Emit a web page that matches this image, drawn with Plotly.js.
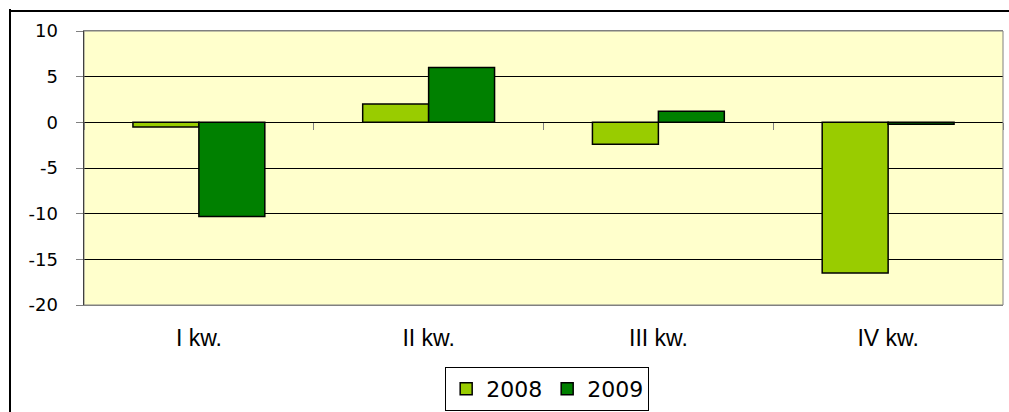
<!DOCTYPE html>
<html>
<head>
<meta charset="utf-8">
<script src="https://cdn.plot.ly/plotly-3.0.1.min.js"></script>
<style>html,body{margin:0;padding:0;background:#fff;}#chart{width:1009px;height:412px;}</style>
</head>
<body>
<div id="chart"></div>
<script>
const categories = ["I kw.", "II kw.", "III kw.", "IV kw."];
const seriesNames = ["2008", "2009"];
const values2008 = [-0.5, 2.0, -2.4, -16.5];
const values2009 = [-10.3, 6.0, 1.2, -0.2];
const yTickVals = [10, 5, 0, -5, -10, -15, -20];

const ARIAL = "Liberation Sans, Arial, sans-serif";
const WIDE = "DejaVu Sans, Verdana, sans-serif";

const traces = [
  {
    type: "bar", name: seriesNames[0], x: categories, y: values2008,
    marker: {color: "#99CC00", line: {color: "#000000", width: 1.5}},
    hoverinfo: "skip"
  },
  {
    type: "bar", name: seriesNames[1], x: categories, y: values2009,
    marker: {color: "#008000", line: {color: "#000000", width: 1.5}},
    hoverinfo: "skip"
  },
  {
    type: "scatter", mode: "markers", x: categories, y: categories.map(() => null),
    xaxis: "x2", yaxis: "y", showlegend: false, hoverinfo: "skip"
  }
];

const layout = {
  width: 1009, height: 412,
  margin: {l: 84, r: 6, t: 31, b: 107, pad: 0, autoexpand: false},
  paper_bgcolor: "#ffffff",
  plot_bgcolor: "#FFFFCC",
  font: {family: ARIAL, size: 16, color: "#000000"},
  barmode: "group",
  bargap: 0.426,
  bargroupgap: 0,
  showlegend: true,
  legend: {
    orientation: "h", x: 0.504, xanchor: "center", y: -0.226, yanchor: "top",
    bordercolor: "#000000", borderwidth: 1, bgcolor: "#ffffff",
    font: {family: WIDE, size: 22, color: "#000000"},
    traceorder: "normal", itemwidth: 30
  },
  xaxis: {
    type: "category", categoryarray: categories, range: [-0.5, categories.length - 0.5],
    showgrid: false, zeroline: false, showline: true, linecolor: "#808080", linewidth: 1,
    ticks: "", ticklabelstandoff: 12, automargin: false,
    tickfont: {family: ARIAL, size: 23, color: "#000000"},
    mirror: true, fixedrange: true
  },
  xaxis2: {
    type: "category", categoryarray: categories, range: [-0.5, categories.length - 0.5],
    overlaying: "x", anchor: "free", position: 20 / 30, side: "bottom",
    showgrid: false, zeroline: false, showline: false, automargin: false,
    ticks: "outside", tickson: "boundaries", ticklen: 7, tickcolor: "#808080", tickwidth: 1,
    showticklabels: false, fixedrange: true
  },
  yaxis: {
    range: [-20, 10], tickvals: yTickVals, ticktext: yTickVals.map(String),
    showgrid: true, gridcolor: "#000000", gridwidth: 1,
    zeroline: true, zerolinecolor: "#000000", zerolinewidth: 1,
    showline: true, linecolor: "#000000", linewidth: 1.5, automargin: false,
    ticks: "outside", ticklen: 7, tickcolor: "#808080", tickwidth: 1,
    ticklabelstandoff: 14,
    tickfont: {family: WIDE, size: 18, color: "#000000"},
    fixedrange: true
  },
  shapes: [
    {type: "rect", xref: "paper", yref: "paper", x0: 0, x1: 1, y0: 0, y1: 1,
     line: {color: "#808080", width: 1}, fillcolor: "rgba(0,0,0,0)", layer: "above"},
    {type: "line", xref: "paper", yref: "paper", x0: -74 / 919, x1: -74 / 919, y0: 1.08, y1: -0.5,
     line: {color: "#000000", width: 2}},
    {type: "line", xref: "paper", yref: "paper", x0: -74 / 919, x1: 1.2, y0: 20 / 274 + 1, y1: 20 / 274 + 1,
     line: {color: "#000000", width: 2}}
  ]
};

Plotly.newPlot("chart", traces, layout, {displayModeBar: false, staticPlot: true});
</script>
</body>
</html>
